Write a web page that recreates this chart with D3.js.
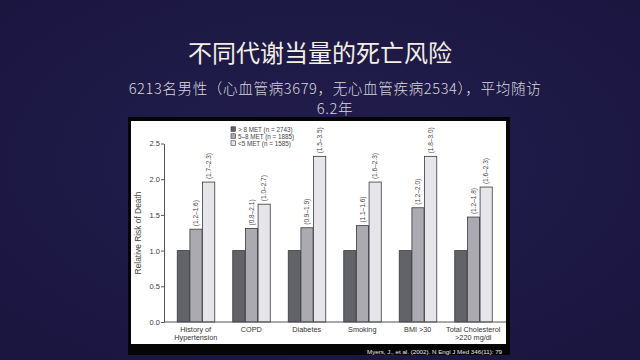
<!DOCTYPE html>
<html><head><meta charset="utf-8">
<script src="https://cdn.jsdelivr.net/npm/d3@7"></script>
<style>html,body{margin:0;padding:0;background:#1d1944;}svg{display:block;}</style>
</head><body>
<svg id="c" width="640" height="360"></svg>
<script>
const categories = [["History of","Hypertension"],["COPD"],["Diabetes"],["Smoking"],["BMI >30"],["Total Cholesterol",">220 mg/dl"]];
const seriesNames = ["> 8 MET (n = 2743)","5\u20138 MET (n = 1885)","<5 MET (n = 1585)"];
const highMET = [1.0,1.0,1.0,1.0,1.0,1.0];
const midMET  = [1.30,1.31,1.32,1.35,1.60,1.47];
const lowMET  = [1.96,1.65,2.32,1.96,2.32,1.89];
const midCI = ["(1.2\u20131.6)","(0.8\u20132.1)","(0.9\u20131.9)","(1.1\u20131.6)","(1.2\u20132.0)","(1.2\u20131.8)"];
const lowCI = ["(1.7\u20132.3)","(1.0\u20132.7)","(1.5\u20133.5)","(1.6\u20132.3)","(1.8\u20133.0)","(1.6\u20132.3)"];
const yTicks = [0,0.5,1.0,1.5,2.0,2.5];
const titleText = "不同代谢当量的死亡风险";
const subLines = ["6213名男性（心血管病3679，无心血管疾病2534），平均随访","6.2年"];
const citation = "Myers, J., et al. (2002). N Engl J Med 346(11): 79";
const colors = ["#626269","#aaaab0","#e6e6ea"];

const svg = d3.select("#c");
const defs = svg.append("defs");
const g = defs.append("radialGradient").attr("id","bg").attr("cx","50%").attr("cy","45%").attr("r","70%");
g.append("stop").attr("offset","0%").attr("stop-color","#221d4c");
g.append("stop").attr("offset","100%").attr("stop-color","#1a1640");
svg.append("rect").attr("width",640).attr("height",360).attr("fill","url(#bg)");

svg.append("text").attr("x",320).attr("y",62).attr("text-anchor","middle")
  .attr("font-family","Noto Sans CJK SC").attr("font-size",24).attr("fill","#f3efe4").text(titleText);
svg.selectAll("text.sub").data(subLines).join("text").attr("class","sub")
  .attr("x",335).attr("y",(d,i)=>94+i*20).attr("text-anchor","middle")
  .attr("font-family","Noto Sans CJK SC").attr("font-weight",300).attr("font-size",14.6)
  .attr("letter-spacing",0.6).attr("fill","#d9d9dc").text(d=>d);

// panel
svg.append("rect").attr("x",128).attr("y",117).attr("width",382).attr("height",238).attr("fill","#050505");
svg.append("rect").attr("x",131).attr("y",121).attr("width",375).attr("height",223).attr("fill","#ffffff");
svg.append("text").attr("x",367).attr("y",353.5).attr("font-family","Liberation Sans Narrow, Liberation Sans")
  .attr("font-size",6.2).attr("fill","#e8e8e8").text(citation);

const y = d3.scaleLinear().domain([0,2.5]).range([322,143.5]);
const x0 = d3.scaleBand().domain(d3.range(categories.length)).range([168,501]).paddingInner(0.315).paddingOuter(0.1575);
const x1 = d3.scaleBand().domain([0,1,2]).range([0,x0.bandwidth()]);

const font = "Liberation Sans, Arial, sans-serif";
const yAxis = svg.append("g").attr("transform","translate(164,0)")
  .call(d3.axisLeft(y).tickValues(yTicks).tickFormat(d3.format(".1f")).tickSize(3).tickSizeOuter(0));
yAxis.select(".domain").attr("stroke","#555");
yAxis.selectAll(".tick line").attr("stroke","#555");
yAxis.selectAll("text").attr("font-family",font).attr("font-size",7.5).attr("fill","#3a3a3a").attr("x",-4);

svg.append("text").attr("transform","translate(141,233) rotate(-90)").attr("text-anchor","middle")
  .attr("font-family",font).attr("font-size",8.4).attr("fill","#444").text("Relative Risk of Death");

const series = [highMET, midMET, lowMET];
const groups = svg.append("g").selectAll("g").data(categories).join("g")
  .attr("transform",(d,i)=>`translate(${x0(i)},0)`);
groups.selectAll("rect").data((d,i)=>series.map((s,k)=>({k,v:s[i]}))).join("rect")
  .attr("x",d=>x1(d.k)+0.5).attr("width",x1.bandwidth()-0.5)
  .attr("y",d=>y(d.v)).attr("height",d=>y(0)-y(d.v))
  .attr("fill",d=>colors[d.k]).attr("stroke","#3a3a3e").attr("stroke-width",0.8);

const ciSets = [null, midCI, lowCI];
groups.each(function(d,i){
  const gg = d3.select(this);
  [1,2].forEach(k=>{
    const cx = x1(k)+x1.bandwidth()/2;
    const ty = y(series[k][i]) - 3;
    gg.append("text").attr("transform",`translate(${cx+2.3},${ty}) rotate(-90)`)
      .attr("font-family",font).attr("font-size",6.5).attr("fill","#444").text(ciSets[k][i]);
  });
  gg.selectAll("text.xl").data(d).join("text").attr("class","xl")
    .attr("x",x0.bandwidth()/2).attr("y",(t,j)=>332+j*8).attr("text-anchor","middle")
    .attr("font-family",font).attr("font-size",7.3).attr("fill","#333").text(t=>t);
});

// x axis line
svg.append("line").attr("x1",164).attr("x2",506).attr("y1",y(0)).attr("y2",y(0)).attr("stroke","#555");

// legend
const lg = svg.append("g").attr("transform","translate(231,131)");
const li = lg.selectAll("g").data(seriesNames).join("g").attr("transform",(d,i)=>`translate(0,${i*7})`);
li.append("rect").attr("width",4.5).attr("height",4.5).attr("y",-4.2).attr("fill",(d,i)=>colors[i]).attr("stroke","#333").attr("stroke-width",0.6);
li.append("text").attr("x",7).attr("y",0.5).attr("font-family",font).attr("font-size",6.3).attr("fill","#444").text(d=>d);
</script>
</body></html>
